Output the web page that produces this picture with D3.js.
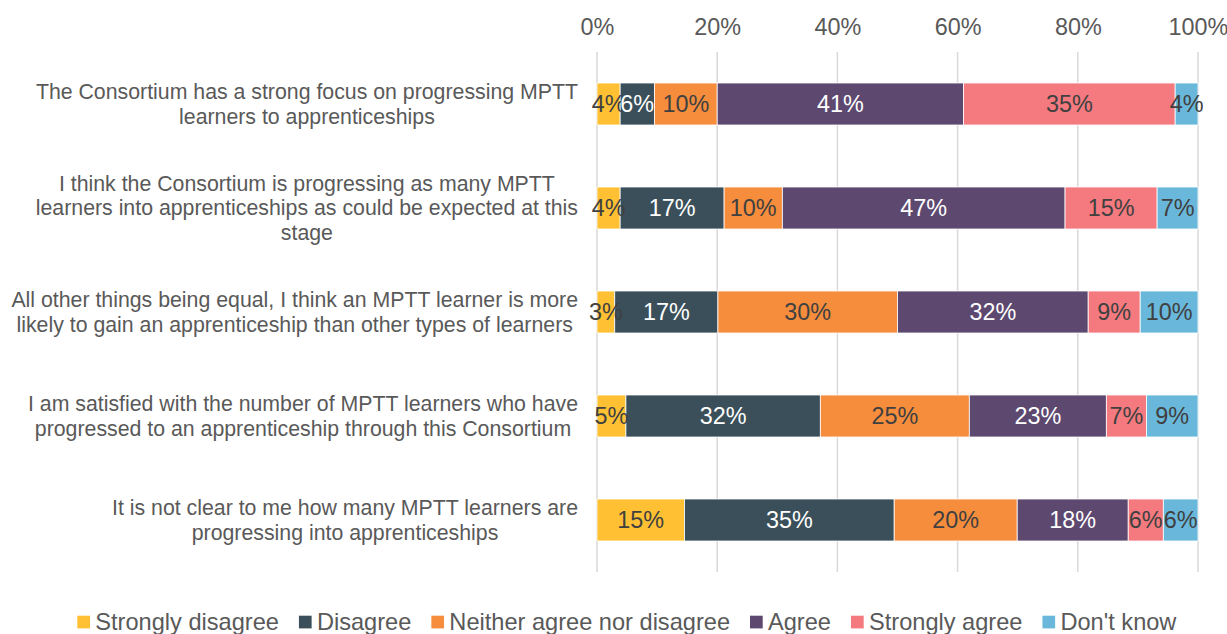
<!DOCTYPE html>
<html><head><meta charset="utf-8">
<script src="https://cdn.jsdelivr.net/npm/d3@7"></script>
<style>body{margin:0;background:#fff}svg{display:block}text{font-family:"Liberation Sans",Arial,sans-serif}</style>
</head><body><svg id="c" width="1227" height="634"></svg>
<script>
const categories = [
  "The Consortium has a strong focus on progressing MPTT\nlearners to apprenticeships",
  "I think the Consortium is progressing as many MPTT\nlearners into apprenticeships as could be expected at this\nstage",
  "All other things being equal, I think an MPTT learner is more\nlikely to gain an apprenticeship than other types of learners",
  "I am satisfied with the number of MPTT learners who have\nprogressed to an apprenticeship through this Consortium",
  "It is not clear to me how many MPTT learners are\nprogressing into apprenticeships"
];
const seriesNames = ["Strongly disagree","Disagree","Neither agree nor disagree","Agree","Strongly agree","Don't know"];
const stronglyDisagree = [3.85, 3.85, 2.95, 4.81, 14.56];
const disagree         = [5.7, 17.3, 17.17, 32.35, 34.89];
const neither          = [10.45, 9.69, 29.88, 24.79, 20.47];
const agree            = [41.0, 47.04, 31.73, 22.8, 18.47];
const stronglyAgree    = [35.2, 15.32, 8.65, 6.67, 5.84];
const dontKnow         = [3.8, 6.8, 9.62, 8.58, 5.77];
const tickValues = [0,20,40,60,80,100];
const colors = ["#FFC133","#3A4F5A","#F68D3D","#5D4870","#F47A7F","#69B8DB"];
const labelColors = ["#404040","#ffffff","#404040","#ffffff","#404040","#404040"];

(function(){
const series = [stronglyDisagree, disagree, neither, agree, stronglyAgree, dontKnow];
const svg = d3.select("#c");
const pL = 597, pR = 1198, pT = 52, pB = 572;
const x = d3.scaleLinear().domain([0,100]).range([pL,pR]);
const y = d3.scaleBand().domain(d3.range(categories.length)).range([pT,pB]).paddingInner(0.596).paddingOuter(0.298);
const FS = 23.4, CFS = 21.3, LFS = 23.6;

svg.append("g").selectAll("line").data(tickValues).join("line")
  .attr("x1",d=>x(d)).attr("x2",d=>x(d)).attr("y1",pT).attr("y2",pB)
  .attr("stroke","#D9D9D9").attr("stroke-width",1.5);

const ax = svg.append("g").attr("transform",`translate(0,${pT-17})`)
  .call(d3.axisTop(x).tickValues(tickValues).tickFormat(d=>d+"%").tickSize(0).tickPadding(0));
ax.select(".domain").remove();
ax.selectAll("text").attr("font-size",FS).attr("fill","#595959").attr("font-family","Liberation Sans, Arial, sans-serif");

const rows = categories.map((c,i)=>{
  let acc=0;
  return series.map((s,k)=>{const v=s[i]; const o={k,i,x0:acc,x1:acc+v,v}; acc+=v; return o;});
});

const g = svg.append("g");
rows.forEach(r=>{
  g.selectAll(null).data(r).join("rect")
    .attr("x",d=>x(d.x0)).attr("width",d=>x(d.x1)-x(d.x0))
    .attr("y",d=>y(d.i)).attr("height",y.bandwidth())
    .attr("fill",d=>colors[d.k]).attr("stroke","#ffffff").attr("stroke-width",0.8);
  g.selectAll(null).data(r).join("text")
    .attr("x",d=>(x(d.x0)+x(d.x1))/2).attr("y",d=>y(d.i)+y.bandwidth()/2)
    .attr("dy","0.35em").attr("text-anchor","middle")
    .attr("font-size",FS).attr("fill",d=>labelColors[d.k])
    .text(d=>Math.round(d.v)+"%");
});

const lineH = 24.3;
categories.forEach((c,i)=>{
  const lines = c.split("\n");
  const t = svg.append("text").attr("font-size",CFS).attr("fill","#595959").attr("text-anchor","middle");
  const cy = y(i)+y.bandwidth()/2;
  lines.forEach((ln,j)=>{
    t.append("tspan").attr("y",cy+(j-(lines.length-1)/2)*lineH).attr("dy","0.35em").text(ln);
  });
  let maxW=0;
  t.selectAll("tspan").each(function(){maxW=Math.max(maxW,this.getComputedTextLength());});
  t.selectAll("tspan").attr("x",578-maxW/2);
});

const lg = svg.append("g");
let lx = 77.3; const ly = 622;
seriesNames.forEach((n,k)=>{
  lg.append("rect").attr("x",lx).attr("y",ly-6.3).attr("width",12.7).attr("height",12.7).attr("fill",colors[k]);
  const t = lg.append("text").attr("x",lx+18).attr("y",ly).attr("dy","0.35em").attr("font-size",LFS).attr("fill","#595959").text(n);
  lx += 18 + t.node().getComputedTextLength() + 20;
});
})();
</script></body></html>
